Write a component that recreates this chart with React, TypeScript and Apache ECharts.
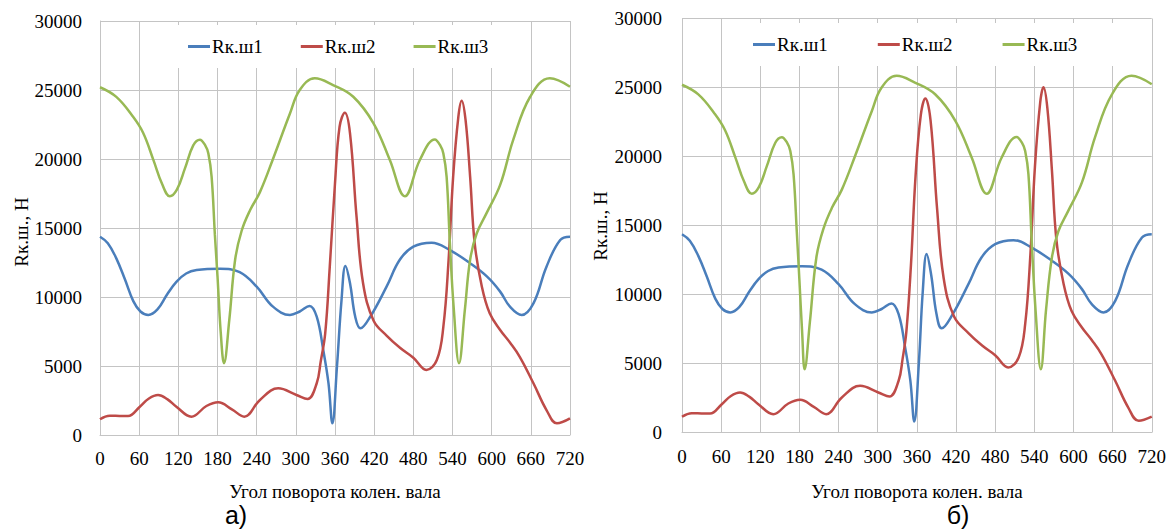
import React, { useEffect, useRef } from 'react';
import * as echarts from 'echarts';

const SERIES_NAMES = ['Rк.ш1', 'Rк.ш2', 'Rк.ш3'];
const COLORS = ['#4A7EBB', '#BE4B48', '#98B954'];
const FONT = "'Liberation Serif', 'Times New Roman', serif";
const CAPTION_FONT = "'Liberation Sans', Arial, sans-serif";

// ---------- chart а) ----------
const blueA_deg = [0, 12, 25, 38, 51, 62, 74, 88, 103, 117, 132, 148, 184, 214, 240, 265, 291, 306, 321, 332, 342, 350, 356, 363, 370, 376, 383, 391, 399, 414, 439, 459, 480, 508, 536, 567, 593, 613, 628, 646, 664, 684, 705, 720];
const blueA_val = [14370, 13900, 12800, 11300, 9700, 8950, 8700, 9100, 10200, 11100, 11700, 11950, 12050, 11800, 10750, 9300, 8700, 8950, 9350, 8570, 6160, 3760, 850, 4950, 9780, 12250, 11000, 8570, 7730, 8570, 10750, 12680, 13650, 13940, 13400, 12440, 11470, 10390, 9300, 8700, 9540, 12200, 14130, 14370];

const redA_deg = [0, 15, 30, 43, 61, 75, 89, 103, 117, 140, 163, 181, 202, 221, 245, 273, 301, 318, 332, 338, 345, 352, 360, 367, 375, 383, 393, 403, 419, 439, 460, 480, 500, 516, 526, 534, 541, 549, 554, 560, 567, 574, 585, 597, 613, 628, 643, 664, 684, 700, 720];
const redA_val = [1140, 1400, 1380, 1370, 2050, 2650, 2900, 2600, 2050, 1330, 2100, 2370, 1860, 1330, 2540, 3380, 2900, 2610, 3750, 5300, 7370, 12200, 18240, 22340, 23350, 21860, 15820, 11000, 8300, 7200, 6300, 5600, 4710, 5430, 7850, 12680, 18720, 23070, 24230, 22830, 18720, 13890, 10750, 8820, 7610, 6700, 5670, 3750, 1810, 850, 1210];

const greenA_deg = [0, 25, 50, 66, 82, 95, 107, 118, 130, 143, 153, 161, 166, 171, 176, 180, 185, 190, 198, 207, 217, 230, 245, 265, 291, 306, 329, 357, 388, 419, 444, 467, 490, 513, 521, 526, 531, 536, 542, 550, 559, 567, 577, 592, 613, 633, 659, 689, 720];
const greenA_val = [25200, 24500, 23100, 21900, 19900, 18200, 17300, 17800, 19300, 21000, 21400, 21000, 20400, 18700, 14500, 11500, 7400, 5200, 8300, 12700, 14800, 16300, 17600, 20000, 23300, 25000, 25850, 25360, 24510, 22590, 19930, 17300, 19930, 21420, 21000, 20400, 18700, 13900, 9100, 5200, 9100, 12700, 14600, 16060, 18120, 21380, 24510, 25850, 25240];

// ---------- chart б) ----------
const blueB_deg = [0, 12, 25, 38, 51, 62, 74, 88, 103, 117, 132, 148, 184, 214, 240, 265, 291, 306, 321, 332, 342, 350, 356, 363, 369, 375, 382, 390, 398, 414, 439, 459, 480, 508, 536, 567, 593, 613, 628, 646, 664, 684, 705, 720];
const blueB_val = [14370, 13900, 12800, 11300, 9700, 8950, 8700, 9100, 10200, 11100, 11700, 11950, 12050, 11800, 10750, 9300, 8700, 8950, 9350, 8570, 6160, 3760, 790, 5000, 10200, 12930, 11400, 8600, 7550, 8500, 10750, 12680, 13650, 13940, 13400, 12440, 11470, 10390, 9300, 8700, 9540, 12200, 14130, 14370];

const redB_deg = [0, 15, 30, 43, 61, 75, 89, 103, 117, 140, 163, 181, 202, 221, 245, 273, 301, 318, 332, 338, 344, 351, 358, 366, 373, 381, 391, 401, 417, 439, 460, 480, 500, 516, 526, 534, 541, 549, 554, 560, 567, 574, 585, 597, 613, 628, 643, 664, 684, 700, 720];
const redB_val = [1140, 1400, 1380, 1370, 2050, 2650, 2900, 2600, 2050, 1330, 2100, 2370, 1860, 1330, 2540, 3380, 2900, 2610, 3750, 5300, 7370, 12200, 18600, 23000, 24210, 22600, 16200, 11200, 8400, 7200, 6300, 5600, 4710, 5430, 7850, 12900, 19300, 23900, 25010, 23500, 19000, 13900, 10750, 8820, 7610, 6700, 5670, 3750, 1810, 850, 1150];

const greenB_deg = [0, 25, 50, 66, 82, 95, 107, 118, 130, 143, 153, 161, 166, 171, 176, 180, 184, 188, 196, 206, 217, 230, 245, 265, 291, 306, 329, 357, 388, 419, 444, 467, 490, 513, 521, 526, 531, 536, 542, 550, 558, 567, 577, 592, 613, 633, 659, 689, 720];
const greenB_val = [25200, 24500, 23100, 21900, 19900, 18200, 17300, 17800, 19300, 21000, 21400, 21000, 20400, 18700, 14500, 11000, 7400, 4580, 8000, 12700, 14800, 16300, 17600, 20000, 23300, 25000, 25850, 25360, 24510, 22590, 19930, 17300, 19930, 21420, 21000, 20400, 18700, 13900, 8800, 4580, 8900, 12700, 14600, 16060, 18120, 21380, 24510, 25850, 25240];

const X_MIN = 0;
const X_MAX = 720;
const X_STEP = 60;
const Y_MIN = 0;
const Y_MAX = 30000;
const Y_STEP = 5000;

const Y_TITLE = 'Rк.ш., Н';
const X_TITLE = 'Угол поворота колен. вала';
const CAPTIONS = ['а)', 'б)'];

const pairs = (d: number[], v: number[]) => d.map((x, i) => [x, v[i]]);

const GRID_COLOR = '#c4c4c4';

function axisPair(idx: number, yMargin: number) {
  const x = {
    type: 'value',
    gridIndex: idx,
    min: X_MIN,
    max: X_MAX,
    interval: X_STEP,
    axisLine: { show: true, lineStyle: { color: GRID_COLOR, width: 1 } },
    axisTick: { show: false },
    splitLine: { show: true, lineStyle: { color: GRID_COLOR, width: 1 } },
    axisLabel: { fontFamily: FONT, fontSize: 19, color: '#000', margin: 14, formatter: (v: number) => String(v) },
  };
  const y = {
    type: 'value',
    gridIndex: idx,
    min: Y_MIN,
    max: Y_MAX,
    interval: Y_STEP,
    axisLine: { show: true, lineStyle: { color: GRID_COLOR, width: 1 } },
    axisTick: { show: false },
    splitLine: { show: true, lineStyle: { color: GRID_COLOR, width: 1 } },
    axisLabel: { fontFamily: FONT, fontSize: 19, color: '#000', margin: yMargin, formatter: (v: number) => String(v) },
  };
  return { x, y };
}

function lineSeries(name: string, color: string, idx: number, data: number[][]) {
  return {
    name,
    type: 'line',
    xAxisIndex: idx,
    yAxisIndex: idx,
    data,
    smooth: 0.4,
    symbol: 'none',
    lineStyle: { color, width: 2.5 },
    itemStyle: { color },
  };
}

function legendCfg(left: number, top: number, gap: number, padding: number[]) {
  return {
    data: SERIES_NAMES,
    left,
    top,
    orient: 'horizontal',
    itemGap: gap,
    itemWidth: 22,
    itemHeight: 3,
    icon: 'rect',
    padding,
    backgroundColor: '#ffffff',
    selectedMode: false,
    textStyle: { fontFamily: FONT, fontSize: 19, color: '#000', padding: [0, 0, 0, -3] },
  };
}

function textEl(text: string, x: number, y: number, size: number, family: string, rotation = 0) {
  return {
    type: 'text',
    x,
    y,
    rotation,
    style: {
      text,
      fontSize: size,
      fontFamily: family,
      fill: '#000',
      align: 'center',
      verticalAlign: 'middle',
    },
  };
}

export default function App() {
  const ref = useRef<HTMLDivElement>(null);
  useEffect(() => {
    if (!ref.current) return;
    const chart = echarts.init(ref.current, undefined, { renderer: 'svg' });
    const a = axisPair(0, 18);
    const b = axisPair(1, 20);
    chart.setOption({
      animation: false,
      backgroundColor: '#ffffff',
      textStyle: { fontFamily: FONT },
      grid: [
        { left: 100, top: 21, width: 470, height: 414 },
        { left: 682, top: 18.5, width: 471, height: 414 },
      ],
      xAxis: [a.x, b.x],
      yAxis: [a.y, b.y],
      legend: [
        legendCfg(160, 25, 38, [12, 20, 12, 28]),
        legendCfg(728, 23, 50, [12, 36, 12, 25]),
      ],
      series: [
        lineSeries(SERIES_NAMES[0], COLORS[0], 0, pairs(blueA_deg, blueA_val)),
        lineSeries(SERIES_NAMES[1], COLORS[1], 0, pairs(redA_deg, redA_val)),
        lineSeries(SERIES_NAMES[2], COLORS[2], 0, pairs(greenA_deg, greenA_val)),
        lineSeries(SERIES_NAMES[0], COLORS[0], 1, pairs(blueB_deg, blueB_val)),
        lineSeries(SERIES_NAMES[1], COLORS[1], 1, pairs(redB_deg, redB_val)),
        lineSeries(SERIES_NAMES[2], COLORS[2], 1, pairs(greenB_deg, greenB_val)),
      ],
      graphic: [
        textEl(Y_TITLE, 21, 232, 19, FONT, Math.PI / 2),
        textEl(Y_TITLE, 600, 226, 19, FONT, Math.PI / 2),
        textEl(X_TITLE, 335, 491, 19, FONT),
        textEl(X_TITLE, 917, 491, 19, FONT),
        textEl(CAPTIONS[0], 236, 515, 25, CAPTION_FONT),
        textEl(CAPTIONS[1], 958, 515, 25, CAPTION_FONT),
      ],
    });
    return () => chart.dispose();
  }, []);
  return (
    <div
      ref={ref}
      style={{ position: 'fixed', left: 0, top: 0, width: 1169, height: 529, background: '#fff' }}
    />
  );
}
